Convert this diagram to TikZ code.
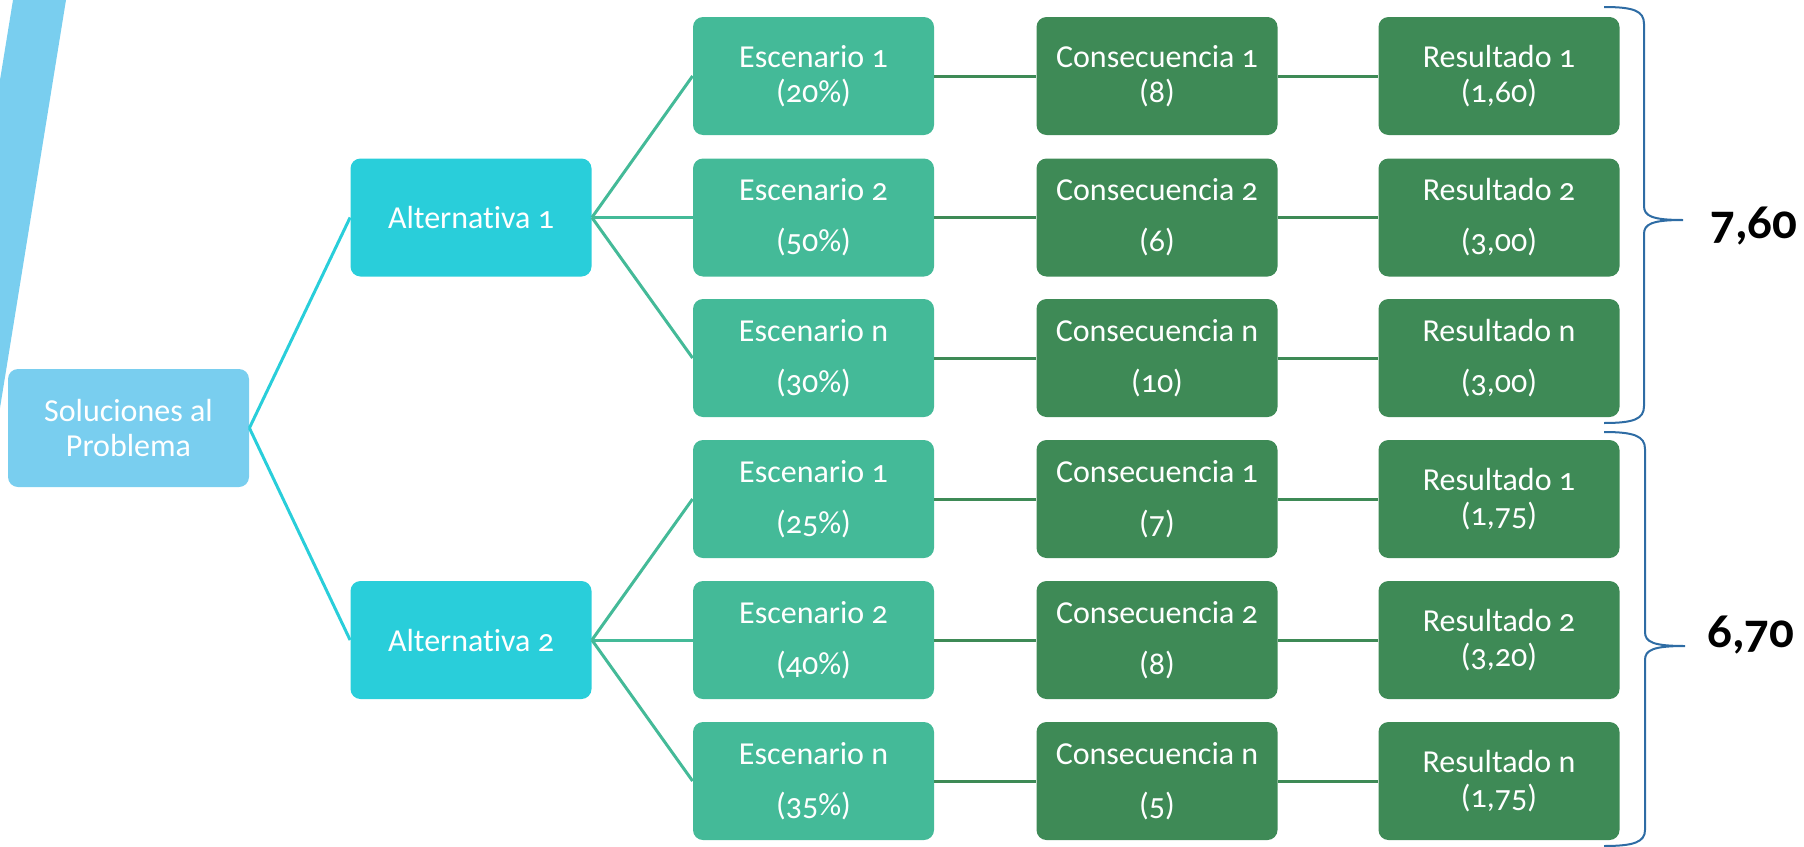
\documentclass[tikz,border=0pt]{standalone}
\usepackage{fontspec}
\setmainfont{Carlito}[Numbers=OldStyle, Ligatures=NoCommon]

\definecolor{solblue}{HTML}{79CEEF}
\definecolor{altcyan}{HTML}{29CEDA}
\definecolor{escgreen}{HTML}{44BA98}
\definecolor{resgreen}{HTML}{3E8A56}
\definecolor{braceblue}{HTML}{2E6CA4}

\tikzset{
  caja/.style={rectangle, rounded corners=5pt, minimum width=120.5pt, minimum height=59pt,
    inner sep=2pt, align=center, text=white, font=\fontsize{16}{17.5}\selectfont},
  solcaja/.style={caja, fill=solblue},
  altcaja/.style={caja, fill=altcyan},
  esccaja/.style={caja, fill=escgreen},
  rescaja/.style={caja, fill=resgreen},
  rama/.style={line width=1.5pt},
  llave/.style={draw=braceblue, line width=1pt},
  total/.style={font=\fontsize{24.5}{27}\selectfont\bfseries, inner sep=0pt}
}

\begin{document}
\begin{tikzpicture}[x=0.5pt, y=-0.5pt]
        \useasboundingbox (0,0) rectangle (1804,846);

        % franja
        \fill[solblue] (13,0) -- (66,0) -- (0,408) -- (0,80) -- cycle;

        \node[solcaja] (sol) at (128.5, 428) {Soluciones al\\Problema};

        \node[altcaja] (a1) at (471, 217.5) {Alternativa 1};
        \node[altcaja] (a2) at (471, 640) {Alternativa 2};

        \node[esccaja] (e1) at (813.5, 76) {Escenario 1\\(20\%)};
        \node[esccaja] (e2) at (813.5, 217.5) {Escenario 2\\[8pt](50\%)};
        \node[esccaja] (e3) at (813.5, 358) {Escenario n\\[8pt](30\%)};
        \node[esccaja] (e4) at (813.5, 499) {Escenario 1\\[8pt](25\%)};
        \node[esccaja] (e5) at (813.5, 640) {Escenario 2\\[8pt](40\%)};
        \node[esccaja] (e6) at (813.5, 781) {Escenario n\\[8pt](35\%)};

        \node[rescaja] (c1) at (1157, 76) {Consecuencia 1\\(8)};
        \node[rescaja] (c2) at (1157, 217.5) {Consecuencia 2\\[8pt](6)};
        \node[rescaja] (c3) at (1157, 358) {Consecuencia n\\[8pt](10)};
        \node[rescaja] (c4) at (1157, 499) {Consecuencia 1\\[8pt](7)};
        \node[rescaja] (c5) at (1157, 640) {Consecuencia 2\\[8pt](8)};
        \node[rescaja] (c6) at (1157, 781) {Consecuencia n\\[8pt](5)};

        \node[rescaja] (r1) at (1499, 76) {Resultado 1\\(1,60)};
        \node[rescaja] (r2) at (1499, 217.5) {Resultado 2\\[8pt](3,00)};
        \node[rescaja] (r3) at (1499, 358) {Resultado n\\[8pt](3,00)};
        \node[rescaja] (r4) at (1499, 499) {Resultado 1\\(1,75)};
        \node[rescaja] (r5) at (1499, 640) {Resultado 2\\(3,20)};
        \node[rescaja] (r6) at (1499, 781) {Resultado n\\(1,75)};

        \draw[rama, altcyan] (sol.east) -- (a1.west);
        \draw[rama, altcyan] (sol.east) -- (a2.west);

        \draw[rama, escgreen] (a1.east) -- (e1.west);
        \draw[rama, escgreen] (a1.east) -- (e2.west);
        \draw[rama, escgreen] (a1.east) -- (e3.west);
        \draw[rama, escgreen] (a2.east) -- (e4.west);
        \draw[rama, escgreen] (a2.east) -- (e5.west);
        \draw[rama, escgreen] (a2.east) -- (e6.west);

        \foreach \i in {1,...,6} {
          \draw[rama, resgreen] (e\i.east) -- (c\i.west);
          \draw[rama, resgreen] (c\i.east) -- (r\i.west);
        }

        % llaves
        \draw[llave] (1604,7) .. controls (1634,7) and (1644,11) .. (1644,24)
          -- (1644,206) .. controls (1644,216) and (1652,220) .. (1683,220)
          .. controls (1652,220) and (1644,224) .. (1644,234)
          -- (1644,406) .. controls (1644,419) and (1634,423) .. (1604,423);
        \draw[llave] (1604,432) .. controls (1634,432) and (1645,436) .. (1645,449)
          -- (1645,632) .. controls (1645,642) and (1653,646) .. (1685,646)
          .. controls (1653,646) and (1645,650) .. (1645,660)
          -- (1645,830) .. controls (1645,842) and (1634,846) .. (1604,846);

        \node[total, anchor=base west] (t1) at (1710, 238) {7,60};
        \node[total, anchor=base west] (t2) at (1707, 647) {6,70};
    \end{tikzpicture}
\end{document}
